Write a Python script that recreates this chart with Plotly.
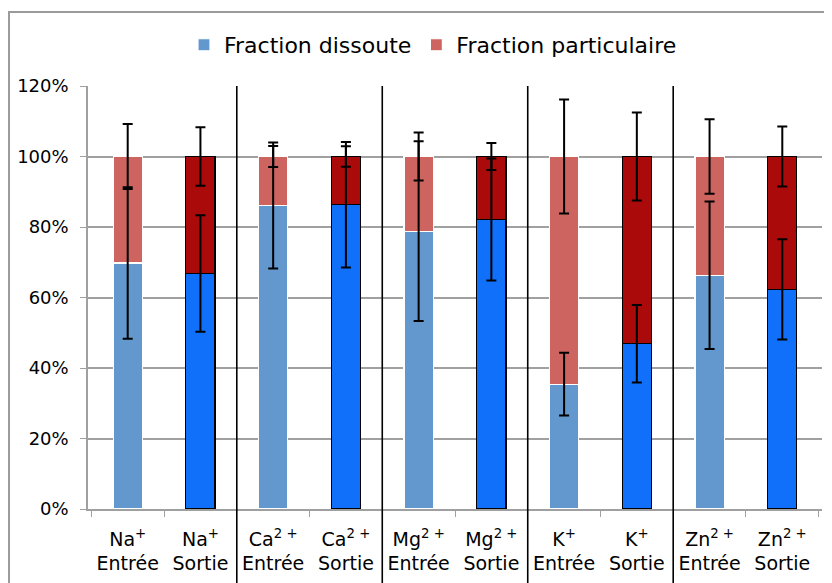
import plotly.graph_objects as go

# categories (element + sampling point)
labels = ['Na<sup>+</sup><br>Entrée', 'Na<sup>+</sup><br>Sortie',
          'Ca<sup>2 +</sup><br>Entrée', 'Ca<sup>2 +</sup><br>Sortie',
          'Mg<sup>2 +</sup><br>Entrée', 'Mg<sup>2 +</sup><br>Sortie',
          'K<sup>+</sup><br>Entrée', 'K<sup>+</sup><br>Sortie',
          'Zn<sup>2 +</sup><br>Entrée', 'Zn<sup>2 +</sup><br>Sortie']

dissoute = [69.8, 66.8, 86.1, 86.3, 78.8, 82.1, 35.4, 46.9, 66.3, 62.3]
particulaire = [100 - d for d in dissoute]
err_dissoute = [21.5, 16.5, 17.9, 17.8, 25.5, 17.3, 8.9, 11.0, 20.9, 14.2]
err_particulaire = [9.2, 8.3, 3.0, 2.9, 6.8, 3.8, 16.2, 12.5, 10.6, 8.5]

y_ticks = [0, 20, 40, 60, 80, 100, 120]
y_ticktext = ['0%', '20%', '40%', '60%', '80%', '100%', '120%']

C = {
    'diss_in':  '#6298CD',
    'part_in':  '#CD645F',
    'diss_out': '#1070FA',
    'part_out': '#AA0A0A',
    'grid':     '#A0A0A0',
    'frame':    '#9A9A9A',
}

FONT = 'DejaVu Sans, sans-serif'

is_in = [i % 2 == 0 for i in range(len(labels))]
diss_colors = [C['diss_in'] if e else C['diss_out'] for e in is_in]
part_colors = [C['part_in'] if e else C['part_out'] for e in is_in]
edge_colors = ['white' if e else 'black' for e in is_in]

fig = go.Figure()
fig.add_trace(go.Bar(
    x=labels, y=dissoute, name='Fraction dissoute',
    marker=dict(color=diss_colors, line=dict(color=edge_colors, width=1.2)),
    width=0.4,
))
fig.add_trace(go.Bar(
    x=labels, y=particulaire, name='Fraction particulaire',
    marker=dict(color=part_colors, line=dict(color=edge_colors, width=1.2)),
    width=0.4,
))

# error bars drawn above every bar
tops = [d + p for d, p in zip(dissoute, particulaire)]
for yv, ev in ((dissoute, err_dissoute), (tops, err_particulaire)):
    fig.add_trace(go.Scatter(
        x=labels, y=yv, mode='markers', marker=dict(size=0.1, opacity=0),
        error_y=dict(type='data', array=ev, color='black', thickness=2, width=5),
        showlegend=False, hoverinfo='skip',
    ))

# group separators
for b in [1.5, 3.5, 5.5, 7.5]:
    fig.add_shape(type='line', xref='x', yref='paper', x0=b, x1=b, y0=-0.25, y1=1,
                  line=dict(color='black', width=1.6))

# outer frame
fig.add_shape(type='rect', xref='paper', yref='paper', x0=-0.1076, x1=1.05, y0=-0.3, y1=1.175,
              line=dict(color=C['frame'], width=2))

fig.update_layout(
    width=824, height=575,
    paper_bgcolor='white', plot_bgcolor='white',
    font=dict(family=FONT, color='black', size=18),
    margin=dict(l=80, r=10, t=78, b=74),
    barmode='stack', bargap=0.6,
    legend=dict(orientation='h', x=0.47, xanchor='center', y=1.097, yanchor='middle',
                font=dict(size=22), traceorder='normal', itemwidth=30),
    xaxis=dict(showgrid=False, zeroline=False, showline=True, linecolor=C['grid'], linewidth=1.5,
               ticks='outside', tickson='boundaries', ticklen=6, tickcolor=C['grid'],
               tickfont=dict(size=19), ticklabelstandoff=12),
    yaxis=dict(range=[0, 120], tickvals=y_ticks, ticktext=y_ticktext, showgrid=True,
               gridcolor=C['grid'], gridwidth=1.5, zeroline=False, showline=True,
               linecolor=C['grid'], linewidth=1.5, ticks='outside', ticklen=6,
               tickcolor=C['grid'], tickfont=dict(size=18), ticklabelstandoff=8),
)

fig.write_html('out.html')
